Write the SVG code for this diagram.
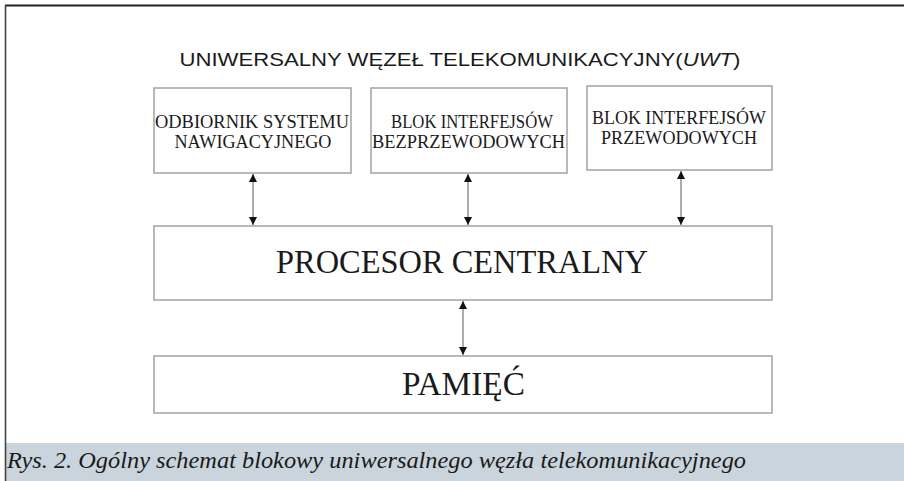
<svg xmlns="http://www.w3.org/2000/svg" width="904" height="481" viewBox="0 0 904 481">
<style>
.box{fill:#fff;stroke:#a3a3a3;stroke-width:1.5}
.t{font-family:"Liberation Serif","Times New Roman",Times,serif;fill:#1a1a1a;text-anchor:middle}
.s{font-size:19.5px}
.b{font-size:33px}
.c{stroke:#8a8a8a;stroke-width:1.4;fill:none;marker-start:url(#ah);marker-end:url(#ah)}
</style>
<defs>
<marker id="ah" viewBox="0 0 10 10" refX="10" refY="5" markerWidth="9" markerHeight="8" markerUnits="userSpaceOnUse" orient="auto-start-reverse">
<path d="M0,0 L10,5 L0,10 Z" fill="#111"/>
</marker>
</defs>
<rect x="0" y="0" width="904" height="481" fill="#fff"/>
<rect x="6" y="443" width="898" height="38" fill="#c9d4dc"/>
<line x1="5" y1="5.5" x2="904" y2="5.5" stroke="#222" stroke-width="1.8"/>
<line x1="5.5" y1="5" x2="5.5" y2="481" stroke="#444" stroke-width="1.6"/>
<text x="460" y="66" font-family="'Liberation Sans',Arial,Helvetica,sans-serif" font-size="19" fill="#1a1a1a" text-anchor="middle" textLength="561" lengthAdjust="spacingAndGlyphs">UNIWERSALNY WĘZEŁ TELEKOMUNIKACYJNY(<tspan font-style="italic">UWT</tspan>)</text>
<g id="odbiornik">
<rect class="box" x="154" y="88" width="197" height="85"/>
<text class="t s" x="252" y="128" textLength="194" lengthAdjust="spacingAndGlyphs">ODBIORNIK SYSTEMU</text>
<text class="t s" x="253" y="148" textLength="157" lengthAdjust="spacingAndGlyphs">NAWIGACYJNEGO</text>
</g>
<g id="bezprzewodowe">
<rect class="box" x="371" y="88" width="196" height="85"/>
<text class="t s" x="472" y="128" textLength="162" lengthAdjust="spacingAndGlyphs">BLOK INTERFEJSÓW</text>
<text class="t s" x="468.5" y="148" textLength="193" lengthAdjust="spacingAndGlyphs">BEZPRZEWODOWYCH</text>
</g>
<g id="przewodowe">
<rect class="box" x="587" y="86" width="185" height="84"/>
<text class="t s" x="679" y="124" textLength="174" lengthAdjust="spacingAndGlyphs">BLOK INTERFEJSÓW</text>
<text class="t s" x="679" y="144" textLength="156" lengthAdjust="spacingAndGlyphs">PRZEWODOWYCH</text>
</g>
<g id="procesor">
<rect class="box" x="154" y="226" width="618" height="74"/>
<text class="t b" x="462" y="273" textLength="372" lengthAdjust="spacingAndGlyphs">PROCESOR CENTRALNY</text>
</g>
<g id="pamiec">
<rect class="box" x="154" y="356" width="618" height="57"/>
<text class="t b" x="463.5" y="395" textLength="123" lengthAdjust="spacingAndGlyphs">PAMIĘĆ</text>
</g>
<g id="connectors">
<line class="c" x1="253" y1="174" x2="253" y2="225"/>
<line class="c" x1="468" y1="174" x2="468" y2="225"/>
<line class="c" x1="681" y1="171" x2="681" y2="225"/>
<line class="c" x1="463" y1="301" x2="463" y2="355"/>
</g>
<text x="7" y="468" font-family="'Liberation Serif','Times New Roman',Times,serif" font-style="italic" font-size="22.5" fill="#1a1a1a" textLength="739" lengthAdjust="spacingAndGlyphs">Rys. 2. Ogólny schemat blokowy uniwersalnego węzła telekomunikacyjnego</text>
</svg>
